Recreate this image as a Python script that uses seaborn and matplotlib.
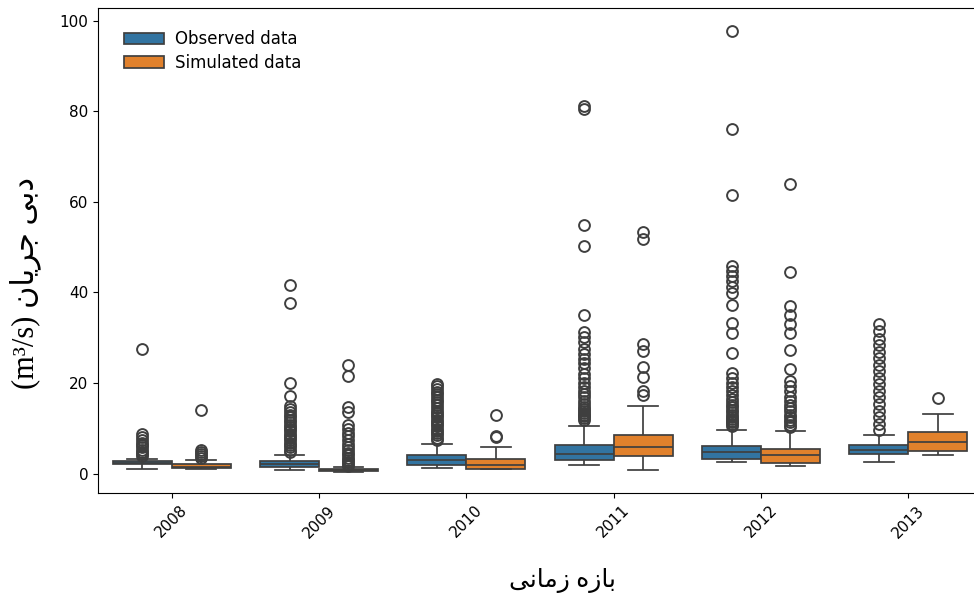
import numpy as np
import pandas as pd
import seaborn as sns
import matplotlib
matplotlib.use("Agg")
import matplotlib.pyplot as plt

years = ["2008", "2009", "2010", "2011", "2012", "2013"]
groups = ["Observed data", "Simulated data"]

# Box statistics: lower whisker, Q1, median, Q3, upper whisker
obs_lo  = [1.1, 0.7, 1.3, 1.8, 2.5, 2.5]
obs_q1  = [2.0, 1.4, 1.8, 2.9, 3.1, 4.4]
obs_med = [2.3, 2.0, 2.9, 4.3, 4.7, 5.3]
obs_q3  = [2.7, 2.7, 4.0, 6.4, 6.0, 6.2]
obs_hi  = [3.3, 4.0, 6.5, 10.4, 9.7, 8.6]

sim_lo  = [1.0, 0.3, 0.9, 0.8, 1.7, 4.0]
sim_q1  = [1.2, 0.5, 1.1, 3.8, 2.4, 4.9]
sim_med = [1.5, 0.7, 1.8, 5.9, 4.0, 6.9]
sim_q3  = [2.0, 0.9, 3.1, 8.4, 5.45, 9.1]
sim_hi  = [3.0, 1.4, 5.9, 14.9, 9.5, 13.2]

# Outliers
obs_out_2008 = [3.9, 4.3, 4.8, 5.3, 5.8, 6.3, 6.8, 7.4, 8.0, 8.8, 27.4]
obs_out_2009 = [4.8, 5.3, 5.8, 6.3, 6.8, 7.3, 7.8, 8.3, 8.8, 9.3, 9.8, 10.3,
                10.8, 11.3, 11.8, 12.4, 13.0, 13.6, 14.3, 15.0, 17.2, 19.9,
                37.6, 41.6]
obs_out_2010 = [7.4, 7.9, 8.4, 8.9, 9.4, 9.9, 10.4, 10.9, 11.4, 11.9, 12.4,
                12.9, 13.4, 13.9, 14.5, 15.1, 15.7, 16.3, 16.9, 17.5, 18.1,
                18.7, 19.3, 19.8]
obs_out_2011 = [11.8, 12.2, 12.6, 13.0, 13.4, 13.8, 14.3, 14.8, 15.4, 16.0,
                16.8, 17.5, 18.3, 19.2, 20.1, 21.0, 22.0, 23.3, 24.3, 25.4,
                26.5, 27.6, 29.0, 30.2, 31.2, 35.0, 50.3, 54.8, 80.4, 81.2]
obs_out_2012 = [10.5, 10.9, 11.3, 11.7, 12.1, 12.5, 13.0, 13.5, 14.0, 14.6,
                15.2, 15.8, 16.5, 17.3, 18.2, 19.1, 20.0, 21.0, 22.2, 26.6,
                31.0, 33.3, 37.3, 39.9, 41.3, 42.6, 43.6, 44.8, 45.8, 61.5,
                76.0, 97.7]
obs_out_2013 = [9.6, 11.0, 12.4, 13.9, 15.3, 16.8, 18.2, 19.7, 21.1, 22.6,
                24.0, 25.5, 26.9, 28.4, 29.8, 31.4, 33.0]

sim_out_2008 = [3.5, 3.9, 4.3, 4.8, 5.3, 14.0]
sim_out_2009 = [1.7, 2.1, 2.5, 3.0, 3.5, 4.0, 4.6, 5.2, 5.9, 6.6, 7.4, 8.2,
                9.0, 9.8, 10.8, 13.5, 14.8, 21.6, 24.0]
sim_out_2010 = [8.0, 8.3, 13.0]
sim_out_2011 = [17.3, 18.3, 21.4, 23.6, 27.0, 28.7, 51.7, 53.3]
sim_out_2012 = [10.3, 10.8, 11.3, 11.8, 12.4, 13.0, 13.7, 14.4, 15.2, 16.0,
                17.0, 18.2, 19.4, 20.5, 23.0, 27.3, 31.0, 33.1, 35.1, 37.0,
                44.4, 63.9]
sim_out_2013 = [16.7]

obs_out = [obs_out_2008, obs_out_2009, obs_out_2010, obs_out_2011, obs_out_2012, obs_out_2013]
sim_out = [sim_out_2008, sim_out_2009, sim_out_2010, sim_out_2011, sim_out_2012, sim_out_2013]


def observations(lo, q1, med, q3, hi, out):
    # a sample whose quartiles / whiskers equal the values
    k = len(out) + 2
    return [lo] + [q1] * k + [med] * k + [q3] * k + [hi] + list(out)


rows = []
for i, y in enumerate(years):
    for v in observations(obs_lo[i], obs_q1[i], obs_med[i], obs_q3[i], obs_hi[i], obs_out[i]):
        rows.append((y, groups[0], v))
    for v in observations(sim_lo[i], sim_q1[i], sim_med[i], sim_q3[i], sim_hi[i], sim_out[i]):
        rows.append((y, groups[1], v))
df = pd.DataFrame(rows, columns=["year", "type", "flow"])

fig = plt.figure(figsize=(9.74, 6.01), dpi=100)
ax = fig.add_axes([98 / 974, 108 / 601, 884 / 974, 485 / 601])

sns.boxplot(data=df, x="year", y="flow", hue="type", order=years,
            hue_order=groups, ax=ax, fliersize=7.8, linewidth=1.25,
            flierprops={"markeredgewidth": 1.4})

ax.set_ylim(-4.3, 102.8)
ax.set_yticks([0, 20, 40, 60, 80, 100])
ax.tick_params(axis="both", labelsize=11)
plt.setp(ax.get_xticklabels(), rotation=45)

sns.move_legend(ax, "upper left", title=None, frameon=False, fontsize=12,
                bbox_to_anchor=(0.012, 0.985), handlelength=2.4,
                handletextpad=0.7, labelspacing=0.35)

# Persian labels written in visual (presentation-form) order
ylab = "(m\u00b3/s) \uFEE5\uFE8E\uFBFE\uFEAE\uFE9F \uFBFD\uFE91\uFEA9"   # دبی جریان (m³/s)
xlab = "\uFBFD\uFEE7\uFE8E\uFEE3\uFEAF \uFEE9\uFEAF\uFE8E\uFE91"        # بازه زمانی
ax.set_ylabel(ylab, fontsize=22, family=["Liberation Serif", "DejaVu Sans"])
ax.set_xlabel(xlab, fontsize=18, family=["Liberation Serif", "DejaVu Sans"])
ax.yaxis.set_label_coords(-0.064, 0.432)
ax.xaxis.set_label_coords(0.525, -0.155)

fig.savefig("out.png", dpi=100)
